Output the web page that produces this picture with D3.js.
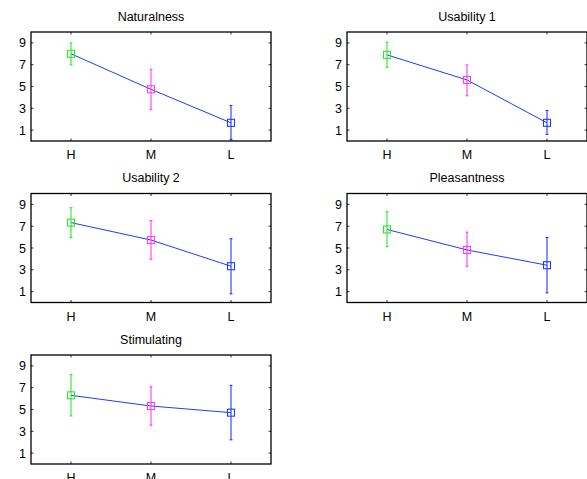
<!DOCTYPE html>
<html>
<head>
<meta charset="utf-8">
<script src="https://cdn.jsdelivr.net/npm/d3@7"></script>
<style>
  html, body { margin: 0; padding: 0; background: #fff; }
  svg { display: block; font-family: "Liberation Sans", Arial, Helvetica, sans-serif; }
</style>
</head>
<body>
<svg id="chart" width="587" height="479"></svg>
<script>
// ---- data ----
const titles = ["Naturalness", "Usability 1", "Usability 2", "Pleasantness", "Stimulating"];
const levels = ["H", "M", "L"];
const levelColors = ["#2ee62e", "#ff3cff", "#1f3cff"];
const yTicks = [1, 3, 5, 7, 9];
// mean, lower, upper per level, per panel
const means = [
  [8.0, 4.74, 1.67],
  [7.9, 5.6, 1.67],
  [7.33, 5.73, 3.33],
  [6.7, 4.82, 3.42],
  [6.3, 5.32, 4.71]
];
const lows = [
  [6.98, 2.9, 0.13],
  [6.76, 4.15, 0.6],
  [5.97, 3.97, 0.79],
  [5.12, 3.33, 0.88],
  [4.41, 3.56, 2.22]
];
const highs = [
  [9.0, 6.58, 3.26],
  [9.06, 6.98, 2.8],
  [8.7, 7.52, 5.85],
  [8.33, 6.45, 5.97],
  [8.2, 7.08, 7.21]
];

// ---- layout ----
const svg = d3.select("#chart");
const colX = [31, 347], boxW = 240, boxH = 109;
const rowY = [32, 193.5, 355];
const lineColor = "#1f3cff";
const fs = "12.5px";

titles.forEach((title, p) => {
  const left = colX[p % 2], top = rowY[Math.floor(p / 2)];
  const g = svg.append("g").attr("transform", `translate(${left},${top})`);
  const x = d3.scaleLinear().domain([0.5, 3.5]).range([0, boxW]);
  const y = d3.scaleLinear().domain([0, 10]).range([boxH, 0]);

  g.append("text").attr("x", boxW / 2).attr("y", -11.5)
    .attr("text-anchor", "middle").style("font-size", fs).attr("fill", "#000")
    .text(title);

  // inward ticks on all four sides (matlab box)
  yTicks.forEach((t) => {
    g.append("line").attr("x1", 0).attr("x2", 2.5).attr("y1", y(t)).attr("y2", y(t))
      .attr("stroke", "#000").attr("stroke-width", 0.8);
    g.append("line").attr("x1", boxW).attr("x2", boxW - 2.5).attr("y1", y(t)).attr("y2", y(t))
      .attr("stroke", "#000").attr("stroke-width", 0.8);
    g.append("text").attr("x", -5).attr("y", y(t)).attr("dy", "0.36em")
      .attr("text-anchor", "end").style("font-size", fs).attr("fill", "#000").text(t);
  });
  levels.forEach((l, i) => {
    g.append("line").attr("x1", x(i + 1)).attr("x2", x(i + 1)).attr("y1", boxH).attr("y2", boxH - 2.5)
      .attr("stroke", "#000").attr("stroke-width", 0.8);
    g.append("line").attr("x1", x(i + 1)).attr("x2", x(i + 1)).attr("y1", 0).attr("y2", 2.5)
      .attr("stroke", "#000").attr("stroke-width", 0.8);
    g.append("text").attr("x", x(i + 1)).attr("y", boxH + 18)
      .attr("text-anchor", "middle").style("font-size", fs).attr("fill", "#000").text(l);
  });

  g.append("rect").attr("x", 0).attr("y", 0).attr("width", boxW).attr("height", boxH)
    .attr("fill", "none").attr("stroke", "#000").attr("stroke-width", 1.3);

  // connecting line
  const line = d3.line().x((d, i) => x(i + 1)).y((d) => y(d));
  g.append("path").datum(means[p]).attr("d", line)
    .attr("fill", "none").attr("stroke", lineColor).attr("stroke-width", 1);

  // error bars + square markers
  means[p].forEach((m, i) => {
    const c = levelColors[i], cx = x(i + 1);
    g.append("line").attr("x1", cx).attr("x2", cx)
      .attr("y1", y(lows[p][i])).attr("y2", y(highs[p][i]))
      .attr("stroke", c).attr("stroke-width", 1.1);
    [lows[p][i], highs[p][i]].forEach((v) => {
      g.append("line").attr("x1", cx - 1.5).attr("x2", cx + 1.5)
        .attr("y1", y(v)).attr("y2", y(v)).attr("stroke", c).attr("stroke-width", 1.1);
    });
    g.append("rect").attr("x", cx - 3.5).attr("y", y(m) - 3.5)
      .attr("width", 7).attr("height", 7)
      .attr("fill", "none").attr("stroke", c).attr("stroke-width", 1.1);
  });
});
</script>
</body>
</html>
